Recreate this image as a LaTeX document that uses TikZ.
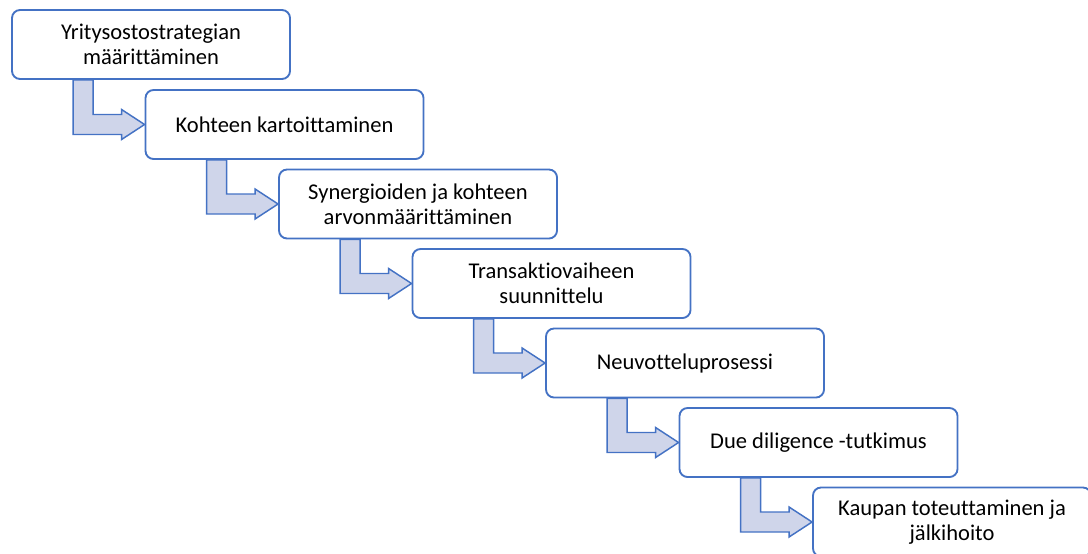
\documentclass[tikz,border=0pt]{standalone}
\usepackage{fontspec}
\setmainfont[Ligatures=NoCommon]{Carlito}
\usepackage{tikz}
\usetikzlibrary{calc}

\definecolor{boxline}{HTML}{4472C4}
\definecolor{arrfill}{HTML}{CFD5EA}

\begin{document}
\begin{tikzpicture}[x=0.75pt,y=-0.75pt,
  stepbox/.style={draw=boxline,line width=1.4pt,rounded corners=6pt,fill=white,
    minimum width=208.5pt,minimum height=51.75pt,inner sep=0pt,align=center,
    font=\fontsize{16.9}{19}\selectfont},
  bent/.style={draw=boxline,line width=1.1pt,fill=arrfill,line join=miter}]
\useasboundingbox (0,0) rectangle (1088,553);
\node[stepbox] (s1) at (151,44.5) {Yritysostostrategian\\määrittäminen};
\node[stepbox] (s2) at ([shift={(133.5,80)}]s1) {Kohteen kartoittaminen};
\node[stepbox] (s3) at ([shift={(133.5,79.5)}]s2) {Synergioiden ja kohteen\\arvonmäärittäminen};
\node[stepbox] (s4) at ([shift={(133.5,79.5)}]s3) {Transaktiovaiheen\\suunnittelu};
\node[stepbox] (s5) at ([shift={(133.5,79.5)}]s4) {Neuvotteluprosessi};
\node[stepbox] (s6) at ([shift={(133.5,79.5)}]s5) {Due diligence -tutkimus};
\node[stepbox] (s7) at ([shift={(133.5,79.5)}]s6) {Kaupan toteuttaminen ja\\jälkihoito};
% bent block arrows between the steps
\foreach \a/\b in {s1/s2,s2/s3,s3/s4,s4/s5,s5/s6,s6/s7} {
  \draw[bent] ($(\a.south west)+(62,0)$) |- ($(\b.west)+(-23,10)$)
    -- ($(\b.west)+(-23,15)$) -- (\b.west) -- ($(\b.west)+(-23,-15)$)
    -- ($(\b.west)+(-23,-10)$) -| ($(\a.south west)+(82,0)$) -- cycle;
}
\end{tikzpicture}
\end{document}
